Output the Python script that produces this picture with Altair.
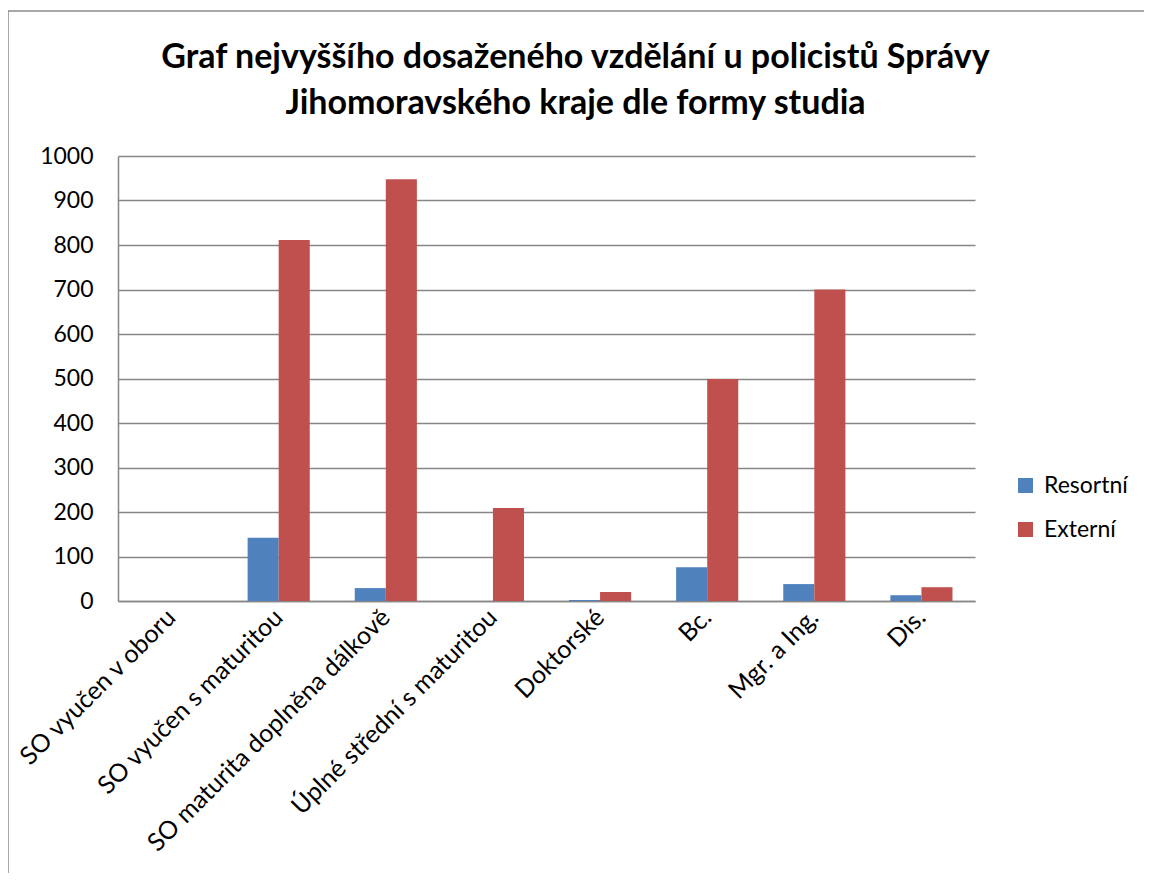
import altair as alt
import pandas as pd

categories = [
    "SO vyučen v oboru",
    "SO vyučen s maturitou",
    "SO maturita doplněna dálkově",
    "Úplné střední s maturitou",
    "Doktorské",
    "Bc.",
    "Mgr. a Ing.",
    "Dis.",
]
series = ["Resortní", "Externí"]
resortni = [0, 142, 29, 0, 2, 76, 38, 13]
externi = [0, 811, 948, 209, 20, 499, 700, 31]
y_ticks = list(range(0, 1001, 100))
title_lines = [
    "Graf nejvyššího dosaženého vzdělání u policistů Správy",
    "Jihomoravského kraje dle formy studia",
]

rows = []
for c, r, e in zip(categories, resortni, externi):
    rows.append({"cat": c, "series": series[0], "value": r})
    rows.append({"cat": c, "series": series[1], "value": e})
df = pd.DataFrame(rows)

FONT = "Lato"
GRID = "#868686"
FS = 23

bars = alt.Chart(df).mark_bar().encode(
    x=alt.X(
        "cat:N",
        sort=categories,
        scale=alt.Scale(paddingInner=0.42, paddingOuter=0.21),
        axis=alt.Axis(
            title=None,
            labelAngle=-45,
            labelAlign="right",
            labelBaseline="middle",
            labelFontSize=25,
            labelFont=FONT,
            labelColor="black",
            labelPadding=12,
            labelLimit=500,
            ticks=False,
            domainColor=GRID,
            domainWidth=1.5,
        ),
    ),
    xOffset=alt.XOffset("series:N", sort=series),
    y=alt.Y(
        "value:Q",
        scale=alt.Scale(domain=[0, 1000], nice=False),
        axis=alt.Axis(
            title=None,
            values=y_ticks,
            format="d",
            grid=True,
            gridColor=GRID,
            gridWidth=1.5,
            ticks=False,
            domainColor=GRID,
            domainWidth=1.5,
            labelFontSize=FS,
            labelFont=FONT,
            labelColor="black",
            labelPadding=25,
        ),
    ),
    color=alt.Color(
        "series:N",
        sort=series,
        scale=alt.Scale(domain=series, range=["#4F81BD", "#C0504D"]),
        legend=alt.Legend(
            title=None,
            orient="none",
            legendX=896,
            legendY=318,
            symbolType="square",
            symbolSize=225,
            symbolStrokeWidth=0,
            labelFontSize=FS,
            labelFont=FONT,
            labelColor="black",
            rowPadding=20,
            labelOffset=7,
        ),
    ),
)

border = alt.Chart(pd.DataFrame({"a": [0]})).mark_rect(
    fill=None, stroke="#8c8c8c", strokeWidth=1.5
).encode(
    x=alt.value(-110), x2=alt.value(1040), y=alt.value(-145), y2=alt.value(760)
)

chart = alt.layer(border, bars).properties(
    width=857,
    height=445,
    padding={"left": 110, "top": 148, "right": 169, "bottom": 272},
    autosize=alt.AutoSizeParams(type="none"),
    title=alt.TitleParams(
        text=title_lines,
        font=FONT,
        fontSize=34,
        fontWeight="bold",
        color="black",
        anchor="middle",
        frame="group",
        dx=29,
        offset=-111,
        lineHeight=46,
    ),
).configure_view(stroke=None)

chart.save("out.html", embed_options={"renderer": "svg", "actions": False})
